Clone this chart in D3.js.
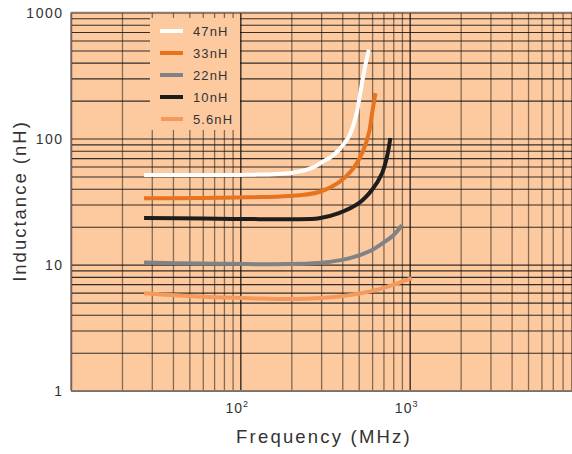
<!DOCTYPE html>
<html>
<head>
<meta charset="utf-8">
<script src="https://cdn.jsdelivr.net/npm/d3@7"></script>
<style>
  body { margin: 0; background: #fff; }
  text { font-family: "Liberation Sans", Arial, sans-serif; fill: #333; }
</style>
</head>
<body>
<svg width="572" height="454"></svg>
<script>
// series: frequency (MHz) and inductance (nH)
var seriesNames = ['47nH', '33nH', '22nH', '10nH', '5.6nH'];
var seriesColors = ['#ffffff', '#e8731f', '#808285', '#1e1c1c', '#f39a5c'];

var freq47 = [27, 60, 110, 200, 265, 305, 345, 382, 438, 481, 515, 551, 574];
var ind47  = [51.5, 51.5, 51.6, 53.4, 58.5, 65.3, 72, 81.3, 104, 150, 244, 399, 506];

var freq33 = [27, 60, 110, 194, 292, 382, 458, 524, 574, 600, 628];
var ind33  = [33.6, 33.8, 34.2, 35.0, 37.7, 45, 56.5, 76.6, 110, 159, 229];

var freq22 = [27, 57, 110, 194, 290, 334, 438, 574, 687, 805, 901];
var ind22  = [10.4, 10.2, 10.1, 10.1, 10.3, 10.5, 11.2, 12.7, 14.7, 17.2, 20.6];

var freq10 = [27, 60, 110, 200, 292, 382, 501, 600, 687, 735, 769];
var ind10  = [23.4, 23.2, 23.0, 22.9, 23.3, 25.6, 30.7, 39.2, 53.1, 72, 101];

var freq56 = [27, 57, 113, 222, 382, 657, 1028];
var ind56  = [5.93, 5.58, 5.41, 5.34, 5.58, 6.37, 7.8];

var xTickValues = [100, 1000];
var yTickValues = [1, 10, 100, 1000];

var svg = d3.select('svg');

var plot = {l: 71, t: 12.5, b: 390.7, r: 579};
var bg = '#fdca9f';

var x = d3.scaleLog().domain([10, 10000]).range([plot.l, plot.r]);
var y = d3.scaleLog().domain([1, 1000]).range([plot.b, plot.t]);

// every 1..9 x decade value for the grid
function decadeValues(lo, hi) {
    var out = [];
    for (var p = lo; p < hi; p *= 10) {
        for (var k = 1; k < 10; k++) out.push(k * p);
    }
    out.push(hi);
    return out;
}
var xGrid = decadeValues(10, 10000);
var yGrid = decadeValues(1, 1000);

svg.append('rect')
    .attr('x', plot.l).attr('y', plot.t)
    .attr('width', plot.r - plot.l).attr('height', plot.b - plot.t)
    .attr('fill', bg);

// vertical grid
var vg = svg.append('g')
    .attr('transform', 'translate(0,' + plot.b + ')')
    .call(d3.axisBottom(x).tickValues(xGrid).tickSize(-(plot.b - plot.t)).tickFormat(''));
vg.select('.domain').remove();
vg.selectAll('line')
    .attr('stroke', '#000')
    .attr('stroke-width', 1.3)
    .attr('stroke-opacity', function(d) {
        var lg = Math.log10(d);
        return Math.abs(lg - Math.round(lg)) < 1e-9 ? 0.85 : 0.48;
    });

// horizontal grid
var hg = svg.append('g')
    .attr('transform', 'translate(' + plot.l + ',0)')
    .call(d3.axisRight(y).tickValues(yGrid).tickSize(plot.r - plot.l).tickFormat(''));
hg.select('.domain').remove();
hg.selectAll('line')
    .attr('stroke', '#111')
    .attr('stroke-width', 1.1)
    .attr('stroke-opacity', 0.85);

// frame edges
svg.append('line').attr('x1', plot.l).attr('x2', 572).attr('y1', plot.t).attr('y2', plot.t)
    .attr('stroke', '#8a7a70').attr('stroke-width', 1.5);
svg.append('line').attr('x1', plot.l).attr('x2', 572).attr('y1', plot.b).attr('y2', plot.b)
    .attr('stroke', '#8a7a70').attr('stroke-width', 1.5);
svg.append('line').attr('x1', plot.l).attr('x2', plot.l).attr('y1', plot.t).attr('y2', plot.b)
    .attr('stroke', '#8a7a70').attr('stroke-width', 1.5);

// legend box hides the grid
var legend = {x: 150, y: 18, w: 90, h: 112};
svg.append('rect')
    .attr('x', legend.x).attr('y', legend.y)
    .attr('width', legend.w).attr('height', legend.h)
    .attr('fill', bg);

var allSeries = [
    {f: freq47, v: ind47},
    {f: freq33, v: ind33},
    {f: freq22, v: ind22},
    {f: freq10, v: ind10},
    {f: freq56, v: ind56}
];

var line = d3.line()
    .x(function(d) { return x(d[0]); })
    .y(function(d) { return y(d[1]); })
    .curve(d3.curveCatmullRom.alpha(0.5));

svg.selectAll('.curve')
    .data(allSeries)
    .enter()
    .append('path')
    .attr('class', 'curve')
    .attr('d', function(s) { return line(d3.zip(s.f, s.v)); })
    .attr('fill', 'none')
    .attr('stroke', function(s, i) { return seriesColors[i]; })
    .attr('stroke-width', 4);

// legend entries
var items = svg.selectAll('.item')
    .data(seriesNames)
    .enter()
    .append('g')
    .attr('class', 'item')
    .attr('transform', function(d, i) { return 'translate(160,' + (31 + i * 22) + ')'; });
items.append('line')
    .attr('x1', function(d, i) { return i === 4 ? 1 : 0; })
    .attr('x2', 23)
    .attr('stroke', function(d, i) { return seriesColors[i]; })
    .attr('stroke-width', 4);
items.append('text')
    .attr('x', 33).attr('y', 4.5)
    .style('font-size', '13px')
    .style('letter-spacing', '1.1px')
    .text(function(d) { return d; });

// y tick labels
svg.selectAll('.ylab')
    .data(yTickValues)
    .enter()
    .append('text')
    .attr('class', 'ylab')
    .attr('x', 63.5)
    .attr('y', function(d) { return y(d) + 5.5; })
    .attr('text-anchor', 'end')
    .style('font-size', '14px')
    .style('letter-spacing', '1.5px')
    .text(function(d) { return d; });

// x tick labels as powers of ten
var xl = svg.selectAll('.xlab')
    .data(xTickValues)
    .enter()
    .append('text')
    .attr('class', 'xlab')
    .attr('x', function(d) { return x(d) - 3; })
    .attr('y', 413)
    .attr('text-anchor', 'middle')
    .style('font-size', '14px')
    .style('letter-spacing', '1px');
xl.append('tspan').text('10');
xl.append('tspan')
    .attr('dy', -6)
    .style('font-size', '9px')
    .text(function(d) { return Math.round(Math.log10(d)); });

// axis titles
svg.append('text')
    .attr('x', 324).attr('y', 442.5)
    .attr('text-anchor', 'middle')
    .style('font-size', '18.5px')
    .style('letter-spacing', '2.2px')
    .text('Frequency (MHz)');

svg.append('text')
    .attr('transform', 'translate(25.5,201) rotate(-90)')
    .attr('text-anchor', 'middle')
    .style('font-size', '18.5px')
    .style('letter-spacing', '2px')
    .text('Inductance (nH)');
</script>
</body>
</html>
